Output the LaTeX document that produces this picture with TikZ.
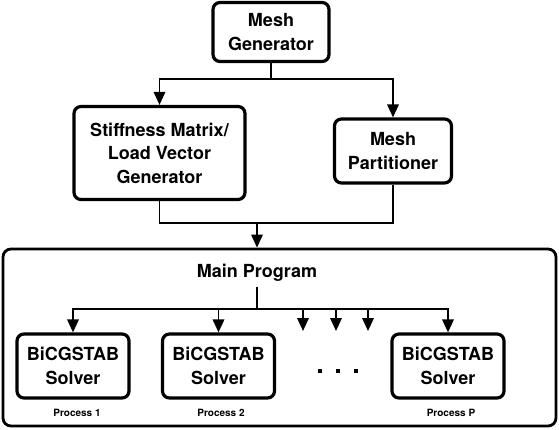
\documentclass[tikz,border=0pt]{standalone}
\usepackage{fontspec}
\setmainfont{TeX Gyre Heros}
\usetikzlibrary{arrows.meta,shapes}
\tikzstyle{mbox}=[rectangle,rounded corners=7pt,draw=black,line width=3.2pt,align=center,inner sep=0pt,font=\fontsize{18}{23.5}\selectfont\bfseries]
\tikzstyle{sbox}=[mbox,minimum width=112pt,minimum height=64pt]
\tikzstyle{plabel}=[font=\fontsize{10}{12}\selectfont\bfseries]
\tikzstyle{dgraph}=[-{Triangle[length=13pt,width=11.5pt]}, line width=1.8pt]

\begin{document}
\begin{tikzpicture}[x=1pt,y=-1pt,line width=1.8pt]
\useasboundingbox (0,0) rectangle (559,430);
\node[mbox,minimum width=116pt,minimum height=59pt] (MG) at (271,32) {Mesh\\Generator};
\node[mbox,minimum width=171pt,minimum height=93pt] (SM) at (159.5,153) {Stiffness Matrix/\\Load Vector\\Generator};
\node[mbox,minimum width=117pt,minimum height=64pt] (MP) at (393,151) {Mesh\\Partitioner};
\node[rectangle,rounded corners=8pt,draw=black,line width=2.8pt,minimum width=553pt,minimum height=177pt] (Main) at (279.5,337.5) {};
\node[font=\fontsize{18}{22}\selectfont\bfseries,inner sep=4pt] (title) at (257,273) {Main Program};
\node[sbox] (S1) at (73,366) {BiCGSTAB\\Solver};
\node[sbox] (S2) at (218.5,366) {BiCGSTAB\\Solver};
\node[sbox] (SP) at (448,366) {BiCGSTAB\\Solver};
\node[plabel] (P1) at (77,413) {Process 1};
\node[plabel] (P2) at (221,413) {Process 2};
\node[plabel] (PP) at (451,413) {Process P};
\coordinate (j1) at (271,79);
\coordinate (j2) at (257,223);
\coordinate (j3) at (257,309);
\coordinate (d1) at (303,331);
\coordinate (d2) at (336,331);
\coordinate (d3) at (368,331);
% generator to the two middle boxes
\draw (MG.south) -- (j1);
\draw[dgraph] (j1) -| (SM.north);
\draw[dgraph] (j1) -| (MP.north);
% both into the main program
\draw (SM.south) |- (j2);
\draw (MP.south) |- (j2);
\draw[dgraph] (j2) -- (j2 |- Main.north);
% main program to the solvers
\draw (title.south) -- (j3);
\draw[dgraph] (j3) -| (S1.north);
\draw[dgraph] (j3) -| (S2.north);
\draw[dgraph] (j3) -| (SP.north);
\foreach \d in {d1,d2,d3}
  \draw[dgraph] (j3) -| (\d);
\foreach \x in {320,338,356}
  \fill (\x-2.2,369) rectangle ++(4.4,4.4);
\end{tikzpicture}
\end{document}
